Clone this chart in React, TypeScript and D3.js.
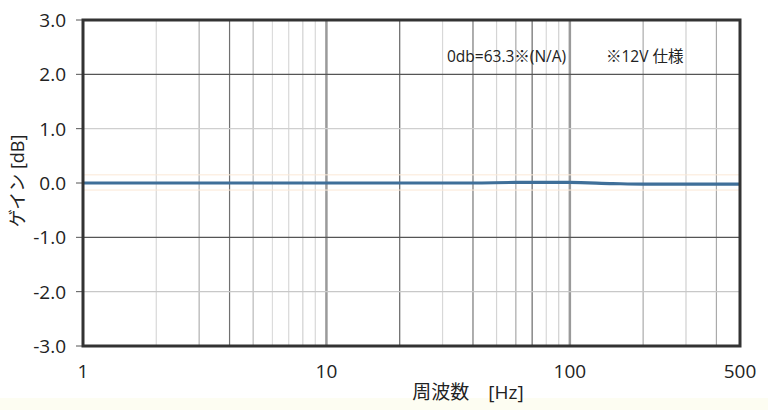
import React from "react";
import * as d3 from "d3";

const freqs = [1, 2, 5, 10, 20, 40, 60, 80, 100, 150, 200, 300, 400, 500];
const gains = [0.0, 0.0, 0.0, 0.0, 0.0, 0.0, 0.01, 0.01, 0.01, -0.01, -0.02, -0.02, -0.02, -0.02];
const yTicks = [3, 2, 1, 0, -1, -2, -3];
const xTickLabels = [1, 10, 100, 500];
const minorGrid = [2, 3, 4, 5, 6, 7, 8, 9, 20, 30, 40, 50, 60, 70, 80, 90, 200, 300, 400];
const decadeGrid = [10, 100];
const annotation1 = "0db=63.3※(N/A)";
const annotation2 = "※12V 仕様";
const xTitle = "周波数　[Hz]";
const yTitle = "ゲイン [dB]";

const W = 768, H = 410;
const L = 83, R = 740, T = 20, B = 346;

export default function App() {
  const x = d3.scaleLog().domain([1, 500]).range([L, R]);
  const y = d3.scaleLinear().domain([-3, 3]).range([B, T]);
  const line = d3.line<number>().x((_, i) => x(freqs[i])).y((d) => y(d)).curve(d3.curveMonotoneX);
  const minorColor: Record<number, string> = {
    2: "#d8d8d8", 3: "#b0b0b0", 4: "#707070", 5: "#b8b8b8", 6: "#dcdcdc", 7: "#d8d8d8", 8: "#d0d0d0", 9: "#d8d8d8",
    20: "#666", 30: "#d8d8d8", 40: "#777", 50: "#d4d4d4", 60: "#a8a8a8", 70: "#6a6a6a", 80: "#d8d8d8", 90: "#d0d0d0",
    200: "#aaa", 300: "#d0d0d0", 400: "#aaa",
  };
  const hColor: Record<number, string> = { 2: "#555", 1: "#cfcfcf", [-1]: "#555", [-2]: "#c8c8c8" };
  const font = "'Open Sans', 'Noto Sans CJK JP', sans-serif";
  return (
    <svg width={W} height={H} style={{ position: "absolute", left: 0, top: 0, background: "#fff" }} fontFamily={font}>
      <rect x={0} y={398} width={W} height={12} fill="#fdfdf2" />
      {minorGrid.map((f) => (
        <line key={f} x1={x(f)} x2={x(f)} y1={T} y2={B} stroke={minorColor[f]} strokeWidth={1.2} />
      ))}
      {decadeGrid.map((f) => (
        <line key={f} x1={x(f)} x2={x(f)} y1={T} y2={B} stroke="#9a9a9a" strokeWidth={2.5} />
      ))}
      {yTicks.filter((t) => hColor[t]).map((t) => (
        <line key={t} x1={L} x2={R} y1={y(t)} y2={y(t)} stroke={hColor[t]} strokeWidth={1.2} />
      ))}
      {yTicks.map((t) => (
        <line key={"tk" + t} x1={L - 7} x2={L} y1={y(t)} y2={y(t)} stroke="#555" strokeWidth={1} />
      ))}
      <line x1={L} x2={R} y1={y(0.15)} y2={y(0.15)} stroke="#fbe8d6" strokeWidth={1} />
      <line x1={L} x2={R} y1={y(-0.13)} y2={y(-0.13)} stroke="#fbe8d6" strokeWidth={1} />
      <path d={line(gains) || ""} fill="none" stroke="#3f6f99" strokeWidth={3.2} />
      <rect x={L} y={T} width={R - L} height={B - T} fill="none" stroke="#333" strokeWidth={3} />
      {yTicks.map((t) => (
        <text key={"yl" + t} x={66} y={y(t)} dy="0.36em" textAnchor="end" fontSize={19} fill="#222">
          {t.toFixed(1)}
        </text>
      ))}
      {xTickLabels.map((t) => (
        <text key={"xl" + t} x={x(t)} y={378} textAnchor="middle" fontSize={19} fill="#222">
          {t}
        </text>
      ))}
      <text x={468} y={399} textAnchor="middle" fontSize={19} fill="#222">{xTitle}</text>
      <text transform={`translate(24,${181}) rotate(-90)`} textAnchor="middle" fontSize={18} fill="#222">{yTitle}</text>
      <text x={447} y={62} fontSize={15.5} fill="#222">{annotation1}</text>
      <text x={606} y={62} fontSize={15.5} fill="#222">{annotation2}</text>
    </svg>
  );
}
